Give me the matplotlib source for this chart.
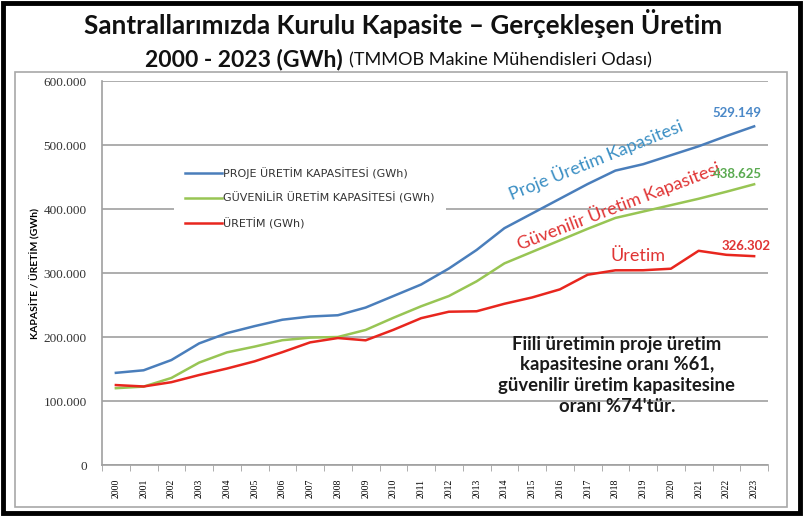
import matplotlib.pyplot as plt
from matplotlib.patches import Rectangle
from matplotlib.ticker import FuncFormatter

years = [str(y) for y in range(2000, 2024)]

proje = [144, 148, 164, 190, 206, 217, 227, 232, 234, 246, 264, 282, 307, 336,
         370, 393, 416, 439, 460, 470, 484, 498, 514, 529.149]
guvenilir = [120, 122.5, 136, 160, 176, 185, 195, 199, 200, 211, 230, 248, 264, 287,
             315, 333, 351, 369, 386, 396, 406, 416, 427, 438.625]
uretim = [124.9, 122.7, 129.4, 140.6, 150.7, 162.0, 176.3, 191.6, 198.4, 194.8, 211.2,
          229.4, 239.5, 240.2, 251.9, 261.8, 274.4, 297.3, 304.2, 304.3, 306.7,
          334.7, 328.4, 326.302]
# GWh, values above are in thousands
proje = [v * 1000 for v in proje]
guvenilir = [v * 1000 for v in guvenilir]
uretim = [v * 1000 for v in uretim]

series_names = ['PROJE ÜRETİM KAPASİTESİ (GWh)',
                'GÜVENİLİR ÜRETİM KAPASİTESİ (GWh)',
                'ÜRETİM (GWh)']
colors = ['#4a7ebb', '#98c554', '#e8261e']

plt.rcParams['font.family'] = ['Lato', 'DejaVu Sans']

fig = plt.figure(figsize=(8.05, 5.16), dpi=100)
W, H = 805, 516

def fx(px):
    return px / W

def fy(py):
    return 1 - py / H

# frames
fig.add_artist(Rectangle((fx(3), fy(513)), fx(797), 510 / H, transform=fig.transFigure,
                         fill=False, edgecolor='black', lw=3.5))
fig.add_artist(Rectangle((fx(15), fy(507)), fx(772), 435 / H, transform=fig.transFigure,
                         fill=False, edgecolor='#a8a8a8', lw=1.2))

# titles
fig.text(fx(403), fy(24), 'Santrallarımızda Kurulu Kapasite – Gerçekleşen Üretim',
         ha='center', va='center', fontsize=18.8, fontweight='bold', color='#111111')
fig.text(fx(343), fy(59), '2000 - 2023 (GWh)', ha='right', va='center',
         fontsize=16.5, fontweight='bold', color='#111111')
fig.text(fx(349), fy(60), '(TMMOB Makine Mühendisleri Odası)', ha='left', va='center',
         fontsize=13.1, color='#111111')

ax = fig.add_axes([fx(102), fy(465), fx(666), 384 / H])
x = list(range(len(years)))
lines = []
for vals, c, name in zip([proje, guvenilir, uretim], colors, series_names):
    l, = ax.plot(x, vals, color=c, lw=1.8, label=name, zorder=3)
    lines.append(l)

ax.set_xlim(-0.5, len(years) - 0.5)
ax.set_ylim(0, 600000)
ax.set_yticks(range(0, 600001, 100000))
ax.yaxis.set_major_formatter(FuncFormatter(lambda v, p: f'{int(v):,}'.replace(',', '.')))
ax.grid(axis='y', color='#a0a0a0', lw=1.2, zorder=0)
ax.set_axisbelow(True)
ax.set_xticks(x)
ax.set_xticklabels(years, rotation=90, fontsize=7, family='Liberation Serif')
ax.set_xticks([i + 0.5 for i in range(-1, len(years))], minor=True)
ax.tick_params(axis='x', which='major', length=0, pad=10)
ax.tick_params(axis='x', which='minor', length=4, color='#a0a0a0', direction='out')
ax.tick_params(axis='y', length=0, pad=11, labelsize=9.5, labelcolor='#333333')
for lab in ax.get_yticklabels():
    lab.set_family('Liberation Serif')
for s in ['top', 'right']:
    ax.spines[s].set_visible(False)
for s in ['left', 'bottom']:
    ax.spines[s].set_color('#a0a0a0')
    ax.spines[s].set_linewidth(1.2)

ax.set_ylabel('KAPASİTE / ÜRETİM (GWh)', fontsize=7.5, fontweight='bold', labelpad=2)

leg = ax.legend(handles=lines, loc='upper left', bbox_to_anchor=(0.1, 0.82),
                frameon=True, fancybox=False, edgecolor='none', facecolor='white',
                framealpha=1, handlelength=3.3, handletextpad=0.1,
                labelspacing=1.25, borderpad=1.0,
                prop={'family': 'DejaVu Sans', 'size': 8})
for t in leg.get_texts():
    t.set_color('#333333')

# curve annotations
ax.text(17.3, 477000, 'Proje Üretim Kapasitesi', color='#3b8fc4', fontsize=13,
        rotation=22, ha='center', va='center', rotation_mode='anchor')
ax.text(18.1, 405000, 'Güvenilir Üretim Kapasitesi', color='#e03434', fontsize=13,
        rotation=21, ha='center', va='center', rotation_mode='anchor')
ax.text(18.8, 327000, 'Üretim', color='#e03434', fontsize=13, ha='center', va='center')

ax.text(22.4, proje[-1] + 21000, '529.149', color='#4a88c8', fontsize=9.5,
        fontweight='bold', ha='center', va='center')
ax.text(22.4, guvenilir[-1] + 16000, '438.625', color='#5aaa50', fontsize=9.5,
        fontweight='bold', ha='center', va='center')
ax.text(22.7, uretim[-1] + 16000, '326.302', color='#e03434', fontsize=9.5,
        fontweight='bold', ha='center', va='center')

ax.text(18.05, 140500,
        'Fiili üretimin proje üretim\nkapasitesine oranı %61,\n'
        'güvenilir üretim kapasitesine\noranı %74\'tür.',
        ha='center', va='center', fontsize=13.3, fontweight='bold',
        color='#1a1a1a', linespacing=1.26)

fig.savefig('out.png', dpi=100)
